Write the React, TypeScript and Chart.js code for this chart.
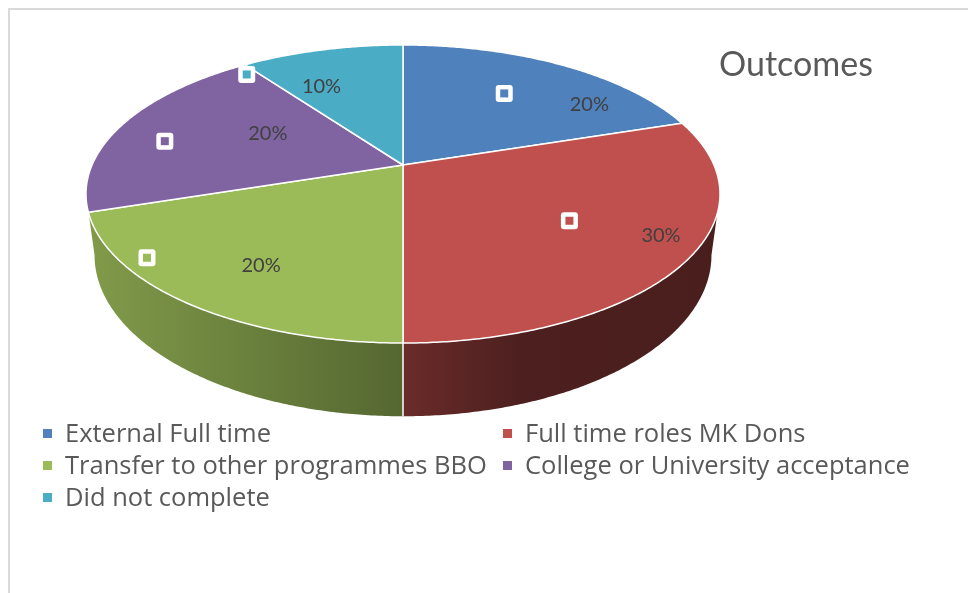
import React, { useEffect, useRef } from "react";
import { Chart, registerables } from "chart.js";

Chart.register(...registerables);

const categories = [
  "External Full time",
  "Full time roles MK Dons",
  "Transfer to other programmes BBO",
  "College or University acceptance",
  "Did not complete",
];
const values = [20, 30, 20, 20, 10];
const colors = ["#4F81BD", "#C0504D", "#9BBB59", "#8064A2", "#4BACC6"];
const chartTitle = "Outcomes";

// placement of labels / handles inside each slice (fraction of slice sweep, fraction of radius)
const labelAngleFrac = [0.76, 0.45, 0.46, 0.625, 0.29];
const labelRadiusFrac = [0.8, 0.88, 0.735, 0.51, 0.68];
const markerAngleFrac = [0.46, 0.5, 0.72, 0.42, -0.07];
const markerRadiusFrac = [0.66, 0.615, 0.93, 0.81, 0.92];

const LABEL_FONT = "20px Lato";
const TITLE_FONT = "34px Lato";
const LEGEND_FONT = "25.5px 'Open Sans'";

function shade(hex: string, f: number) {
  const n = parseInt(hex.slice(1), 16);
  const r = Math.round(((n >> 16) & 255) * f);
  const g = Math.round(((n >> 8) & 255) * f);
  const b = Math.round((n & 255) * f);
  return `rgb(${r},${g},${b})`;
}

function roundRect(ctx: CanvasRenderingContext2D, x: number, y: number, w: number, h: number, r: number) {
  ctx.beginPath();
  ctx.moveTo(x + r, y);
  ctx.lineTo(x + w - r, y);
  ctx.quadraticCurveTo(x + w, y, x + w, y + r);
  ctx.lineTo(x + w, y + h - r);
  ctx.quadraticCurveTo(x + w, y + h, x + w - r, y + h);
  ctx.lineTo(x + r, y + h);
  ctx.quadraticCurveTo(x, y + h, x, y + h - r);
  ctx.lineTo(x, y + r);
  ctx.quadraticCurveTo(x, y, x + r, y);
  ctx.closePath();
}

const pie3d = {
  id: "pie3d",
  beforeDatasetsDraw(chart: any) {
    const ctx: CanvasRenderingContext2D = chart.ctx;
    const meta = chart.getDatasetMeta(0);
    const arcs: any[] = meta.data;
    if (!arcs.length) return false;
    const cx = arcs[0].x;
    const cy = arcs[0].y;
    const R = arcs[0].outerRadius;
    const A = R * 2.073;
    const B = R * 0.956;
    const Dp = R * 0.393;
    const K = 0.1946;
    const shrink = 0.973;
    const P = (ang: number, rho: number, z: number): [number, number] => {
      const X = rho * Math.cos(ang);
      const V = rho * Math.sin(ang);
      const s = 1 / (1 - K * V);
      const f = z ? shrink : 1;
      return [cx + A * X * s * f, cy + B * V * s + z * Dp * s];
    };
    const step = Math.PI / 360;
    const total = values.reduce((a, b) => a + b, 0);

    // visible wall segments between the two silhouette angles; thin edge slivers merge into neighbour
    const sil = Math.asin(K);
    const segs: { i: number; a1: number; a2: number }[] = [];
    arcs.forEach((arc, i) => {
      const a1 = Math.max(arc.startAngle, sil);
      const a2 = Math.min(arc.endAngle, Math.PI - sil);
      if (a2 > a1) segs.push({ i, a1, a2 });
    });
    const minW = 0.15;
    for (let j = 0; j < segs.length; j++) {
      const sg = segs[j];
      if (sg.a2 - sg.a1 < minW && segs.length > 1) {
        if (j > 0) segs[j - 1].a2 = sg.a2;
        else segs[j + 1].a1 = sg.a1;
        segs.splice(j, 1);
        j--;
      }
    }

    ctx.save();
    segs.forEach(({ i, a1, a2 }) => {
      const g = ctx.createLinearGradient(cx - A * 1.02, 0, cx + A * 1.02, 0);
      g.addColorStop(0, shade(colors[i], 0.83));
      g.addColorStop(0.5, shade(colors[i], 0.55));
      g.addColorStop(0.68, shade(colors[i], 0.4));
      g.addColorStop(1, shade(colors[i], 0.38));
      ctx.beginPath();
      let p = P(a1, 1, 0);
      ctx.moveTo(p[0], p[1]);
      for (let t = a1 + step; t < a2; t += step) {
        const q = P(t, 1, 0);
        ctx.lineTo(q[0], q[1]);
      }
      p = P(a2, 1, 0);
      ctx.lineTo(p[0], p[1]);
      for (let t = a2; t > a1; t -= step) {
        const q = P(t, 1, 1);
        ctx.lineTo(q[0], q[1]);
      }
      p = P(a1, 1, 1);
      ctx.lineTo(p[0], p[1]);
      ctx.closePath();
      ctx.fillStyle = g;
      ctx.fill();
    });
    // wall separators
    ctx.strokeStyle = "#ffffff";
    ctx.lineWidth = 1.5;
    segs.forEach(({ a1 }) => {
      if (a1 > sil + 0.02 && a1 < Math.PI - sil - 0.02) {
        const p = P(a1, 1, 0);
        const q = P(a1, 1, 1);
        ctx.beginPath();
        ctx.moveTo(p[0], p[1]);
        ctx.lineTo(q[0], q[1]);
        ctx.stroke();
      }
    });
    // top faces
    ctx.lineJoin = "round";
    arcs.forEach((arc, i) => {
      ctx.beginPath();
      ctx.moveTo(cx, cy);
      for (let t = arc.startAngle; t < arc.endAngle; t += step) {
        const p = P(t, 1, 0);
        ctx.lineTo(p[0], p[1]);
      }
      const e = P(arc.endAngle, 1, 0);
      ctx.lineTo(e[0], e[1]);
      ctx.closePath();
      ctx.fillStyle = colors[i];
      ctx.fill();
      ctx.strokeStyle = "#ffffff";
      ctx.lineWidth = 1.5;
      ctx.stroke();
    });
    // handles
    arcs.forEach((arc, i) => {
      const ang = arc.startAngle + markerAngleFrac[i] * (arc.endAngle - arc.startAngle);
      const [x, y] = P(ang, markerRadiusFrac[i], 0);
      ctx.fillStyle = "#ffffff";
      roundRect(ctx, x - 8.5, y - 8.5, 17, 17, 3);
      ctx.fill();
      ctx.fillStyle = colors[i];
      ctx.fillRect(x - 4, y - 4, 8, 8);
    });
    // data labels
    ctx.fillStyle = "#404040";
    ctx.font = LABEL_FONT;
    ctx.textAlign = "center";
    ctx.textBaseline = "middle";
    arcs.forEach((arc, i) => {
      const ang = arc.startAngle + labelAngleFrac[i] * (arc.endAngle - arc.startAngle);
      const [x, y] = P(ang, labelRadiusFrac[i], 0);
      ctx.fillText(Math.round((values[i] / total) * 100) + "%", x, y);
    });
    // title
    ctx.fillStyle = "#595959";
    ctx.textAlign = "left";
    ctx.textBaseline = "alphabetic";
    ctx.font = TITLE_FONT;
    ctx.fillText(chartTitle, 711, 68);
    // legend
    ctx.font = LEGEND_FONT;
    const colX = [35, 495];
    const rowY = [434, 466, 498];
    categories.forEach((c, i) => {
      const col = i % 2;
      const row = Math.floor(i / 2);
      const x = colX[col];
      const y = rowY[row];
      ctx.fillStyle = colors[i];
      ctx.fillRect(x, y - 13, 9, 9);
      ctx.fillStyle = "#595959";
      ctx.fillText(c, x + 22, y);
    });
    ctx.restore();
    return false;
  },
};

export default function App() {
  const ref = useRef<HTMLCanvasElement>(null);
  useEffect(() => {
    document.documentElement.style.overflow = "hidden";
    document.body.style.overflow = "hidden";
    const chart = new Chart(ref.current as HTMLCanvasElement, {
      type: "pie",
      data: {
        labels: categories,
        datasets: [{ data: values, backgroundColor: colors, borderColor: "#ffffff", borderWidth: 0 }],
      },
      options: {
        responsive: false,
        animation: false,
        events: [],
        layout: { padding: { left: 245, right: 423, top: 7, bottom: 278 } },
        plugins: {
          legend: { display: false },
          tooltip: { enabled: false },
          title: { display: false },
        },
      },
      plugins: [pie3d as any],
    });
    let alive = true;
    Promise.all([
      document.fonts.load(LABEL_FONT),
      document.fonts.load(TITLE_FONT),
      document.fonts.load(LEGEND_FONT),
    ])
      .catch(() => null)
      .then(() => {
        if (alive) chart.update();
      });
    return () => {
      alive = false;
      chart.destroy();
    };
  }, []);
  return (
    <div style={{ position: "relative", width: 968, height: 585, overflow: "hidden" }}>
      <div
        style={{
          position: "absolute",
          left: 0,
          top: 0,
          width: 1200,
          height: 800,
          borderLeft: "2px solid #d9d9d9",
          borderTop: "2px solid #d9d9d9",
          boxSizing: "border-box",
        }}
      />
      <canvas ref={ref} width={968} height={585} style={{ position: "absolute", left: 0, top: 0 }} />
    </div>
  );
}
